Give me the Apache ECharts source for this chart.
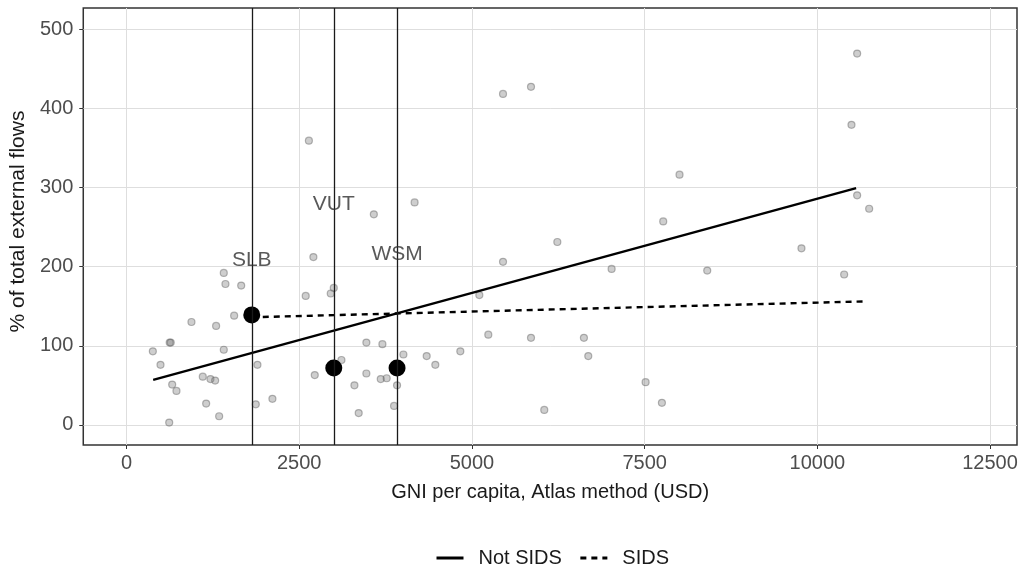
<!DOCTYPE html>
<html>
<head>
<meta charset="utf-8">
<script src="https://cdn.jsdelivr.net/npm/echarts@6/dist/echarts.min.js"></script>
<style>
  html, body { margin: 0; padding: 0; background: #fff; }
  #chart { width: 1022px; height: 568px; }
</style>
</head>
<body>
<div id="chart"></div>
<script>
// Country observations: [GNI per capita (USD), % of total external flows]
const countryPoints = [
  [2640, 359], [3580, 266], [4170, 281], [2705, 212], [1408, 192], [1432, 178],
  [1660, 176], [2594, 163], [3000, 173], [2956, 166], [1558, 138], [940, 130],
  [1297, 125], [625, 104], [640, 104], [381, 93], [1408, 95], [492, 76],
  [1895, 76], [661, 51], [723, 43], [1104, 61], [1215, 58], [1283, 56],
  [1153, 27], [1341, 11], [618, 3], [1871, 26], [2112, 33], [2725, 63],
  [3111, 82], [3472, 104], [3704, 102], [3472, 65], [3299, 50], [3680, 58],
  [3766, 59], [4008, 89], [3916, 50], [3873, 24], [3361, 15],
  [5450, 418], [5855, 427], [8005, 316], [7769, 257], [6236, 231], [5450, 206],
  [7022, 197], [8406, 195], [5107, 164], [5237, 114], [5855, 110], [6621, 110],
  [6684, 87], [4832, 93], [4345, 87], [4470, 76], [7514, 54], [7750, 28],
  [6047, 19],
  [10576, 469], [10494, 379], [10576, 290], [10750, 273], [9770, 223], [10388, 190]
];

// Highlighted small island states
const focusCodes = ['SLB', 'VUT', 'WSM'];
const focusGni = [1813, 3000, 3916];
const focusFlows = [139, 72, 72];
const focusLabelY = [208, 279, 216];

// Fitted trend lines (endpoints)
const notSidsFit = [[386, 57], [10561, 299]];
const sidsFit = [[1813, 136], [10667, 156]];

// Axis ticks
const xTicks = [0, 2500, 5000, 7500, 10000, 12500];
const yTicks = [0, 100, 200, 300, 400, 500];

const FONT = '"Liberation Sans", Arial, sans-serif';

const chart = echarts.init(document.getElementById('chart'), null, { renderer: 'canvas' });

chart.setOption({
  animation: false,
  backgroundColor: '#ffffff',
  textStyle: { fontFamily: FONT },
  grid: { left: 83, right: 5, top: 8, bottom: 123, show: true, borderColor: '#333333', borderWidth: 1.5, backgroundColor: '#ffffff' },
  legend: {
    top: 543,
    left: 430,
    itemWidth: 27,
    itemHeight: 14,
    itemGap: 17,
    itemStyle: { opacity: 0 },
    lineStyle: { width: 3 },
    textStyle: { fontFamily: FONT, fontSize: 20, color: '#1a1a1a', padding: [0, 0, 0, 10] },
    data: ['Not SIDS', 'SIDS']
  },
  xAxis: {
    type: 'value',
    min: -626,
    max: 12890,
    name: 'GNI per capita, Atlas method (USD)',
    nameLocation: 'middle',
    nameGap: 37,
    nameTextStyle: { fontFamily: FONT, fontSize: 20, color: '#1a1a1a' },
    axisLine: { show: false, onZero: false },
    axisTick: { show: true, customValues: xTicks, length: 4, lineStyle: { color: '#333333' } },
    axisLabel: { customValues: xTicks, formatter: v => String(v), fontSize: 20, color: '#4d4d4d', margin: 8, fontFamily: FONT },
    splitLine: { show: true, lineStyle: { color: '#dedede', width: 1 } }
  },
  yAxis: {
    type: 'value',
    min: -25.3,
    max: 526.5,
    name: '% of total external flows',
    nameLocation: 'middle',
    nameGap: 52,
    nameTextStyle: { fontFamily: FONT, fontSize: 21, color: '#1a1a1a', padding: [0, 0, 0, 10] },
    axisLine: { show: false, onZero: false },
    axisTick: { show: true, customValues: yTicks, length: 4, lineStyle: { color: '#333333' } },
    axisLabel: { customValues: yTicks, formatter: v => String(v), fontSize: 20, color: '#4d4d4d', margin: 10, fontFamily: FONT },
    splitLine: { show: true, lineStyle: { color: '#dedede', width: 1 } }
  },
  series: [
    {
      name: 'countries',
      type: 'scatter',
      symbol: 'circle',
      symbolSize: 7,
      z: 2,
      itemStyle: { color: 'rgba(120,120,120,0.45)', borderColor: 'rgba(90,90,90,0.55)', borderWidth: 1.2 },
      data: countryPoints
    },
    {
      name: 'Not SIDS',
      type: 'line',
      symbol: 'none',
      z: 3,
      lineStyle: { color: '#000000', width: 2.4, type: 'solid' },
      itemStyle: { color: '#000000' },
      data: notSidsFit
    },
    {
      name: 'SIDS',
      type: 'line',
      symbol: 'none',
      z: 3,
      lineStyle: { color: '#000000', width: 2.4, type: [6, 5] },
      itemStyle: { color: '#000000' },
      data: sidsFit
    },
    {
      name: 'focus',
      type: 'scatter',
      symbol: 'circle',
      symbolSize: 17,
      z: 4,
      itemStyle: { color: '#000000', opacity: 1 },
      data: focusGni.map((g, i) => [g, focusFlows[i]]),
      markLine: {
        silent: true,
        symbol: 'none',
        label: { show: false },
        lineStyle: { color: '#1a1a1a', width: 1.3, type: 'solid' },
        data: focusGni.map(g => ({ xAxis: g }))
      }
    },
    {
      name: 'codes',
      type: 'scatter',
      symbolSize: 1,
      z: 5,
      itemStyle: { color: 'rgba(0,0,0,0)' },
      label: {
        show: true,
        position: 'inside',
        formatter: p => focusCodes[p.dataIndex],
        fontSize: 21,
        color: '#303030',
        fontFamily: FONT
      },
      data: focusGni.map((g, i) => [g, focusLabelY[i]])
    }
  ]
});
</script>
</body>
</html>
